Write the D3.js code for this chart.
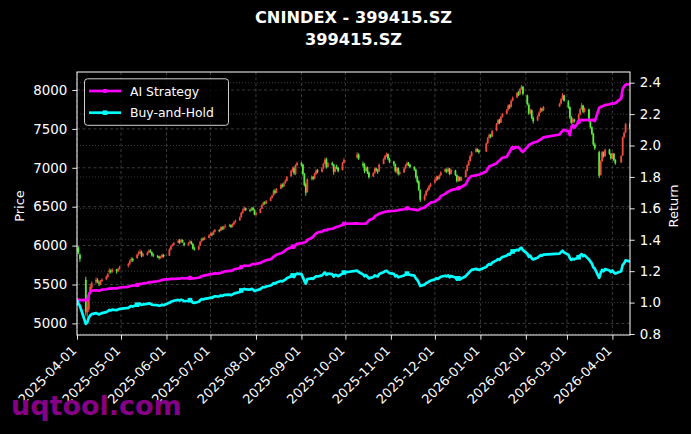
<!DOCTYPE html>
<html>
<head>
<meta charset="utf-8">
<script src="https://cdn.jsdelivr.net/npm/d3@7"></script>
<style>
html, body { margin: 0; padding: 0; background: #000; }
svg { display: block; font-family: "DejaVu Sans", sans-serif; }
</style>
</head>
<body>
<svg id="chart" width="691" height="434"></svg>
<script>
// exchange holidays (weekdays with no trading)
var holidays = ['2025-04-04', '2025-05-01', '2025-05-02', '2025-05-05', '2025-06-02',
  '2025-10-01', '2025-10-02', '2025-10-03', '2025-10-06', '2025-10-07', '2025-10-08',
  '2026-01-01', '2026-01-02', '2026-02-16', '2026-02-17', '2026-02-18', '2026-02-19',
  '2026-02-20', '2026-02-23', '2026-04-06'];

var opens = [
  5920,5965,5880,5560,5140,5180,5420,5460,5530,5560,5530,5505,5545,5570,5600,5660,5680,5665,5690,5670,5700,
  5740,5770,5800,5830,5840,5890,5900,5920,5870,5880,5915,5935,5915,5885,5865,5860,5840,5850,5880,
  5870,5950,5995,6010,6040,6065,6045,6070,6030,6010,6035,6050,6020,5960,5950,6000,6055,6090,6080,6100,
  6130,6155,6140,6180,6200,6190,6235,6210,6240,6250,6265,6240,6270,6300,6325,6365,6420,6455,6480,6460,6450,6485,6460,
  6395,6420,6475,6520,6555,6540,6575,6615,6645,6705,6680,6730,6785,6760,6805,6830,6890,6965,6995,6920,7035,
  7060,7040,6915,6790,6690,6855,6885,6860,6920,6965,6950,6995,7055,7110,7010,7060,7040,6950,7015,7000,6970,7065,
  7130,7170,7050,7040,6960,7005,6940,6890,6935,6990,6965,6955,7050,7110,7150,7175,7120,
  7080,7045,6955,6995,6920,6940,6995,7030,7060,7040,7010,6975,6880,6825,6710,6590,6645,6700,6720,6760,
  6810,6840,6880,6860,6905,6950,6980,6950,6990,6920,6965,6905,6830,6880,6840,6880,6960,7030,7085,7150,7205,7240,7225,
  7210,7315,7385,7425,7400,7480,7565,7615,7580,7655,7695,7745,7800,7785,7865,7905,7965,7945,8015,8040,
  7930,7810,7700,7740,7640,7610,7665,7715,7760,7740,7790,7825,7885,7930,
  7850,7780,7650,7580,7620,7600,7685,7755,7800,7720,7750,7600,7520,7440,7300,7200,6910,7085,7200,7150,7235,7180,
  7120,7180,7100,7070,7160,7395,7455,7560
];
var highs = [
  6000,5990,5900,5600,5300,5400,5500,5540,5590,5580,5550,5560,5580,5615,5650,5710,5695,5710,5700,5715,5740,
  5780,5820,5850,5845,5900,5930,5950,5935,5905,5925,5950,5955,5925,5900,5880,5870,5870,5895,5890,
  5965,6000,6025,6045,6080,6085,6090,6080,6045,6045,6070,6060,6030,5985,6000,6060,6100,6105,6115,6145,
  6165,6170,6195,6215,6210,6245,6250,6255,6275,6280,6275,6285,6315,6335,6375,6430,6470,6500,6490,6475,6495,6500,6465,
  6435,6480,6530,6565,6570,6585,6625,6655,6720,6730,6740,6800,6800,6815,6850,6895,6975,7010,7020,7045,7080,
  7075,7050,6935,6810,6865,6900,6895,6935,6980,6985,7005,7065,7130,7130,7075,7080,7050,7020,7040,7010,7075,7125,
  7200,7185,7080,7060,7020,7015,6955,6945,7005,7000,6985,7055,7125,7165,7195,7185,7130,
  7090,7055,7010,7005,6960,7005,7045,7080,7075,7050,7020,6990,6900,6840,6725,6660,6715,6740,6780,6805,
  6860,6900,6895,6915,6955,6995,6990,7005,7000,6985,6975,6915,6895,6890,6885,6975,7045,7095,7165,7215,7260,7250,7235,
  7325,7395,7440,7435,7485,7575,7625,7630,7665,7705,7755,7815,7815,7875,7915,7975,7985,8025,8065,8050,
  7940,7830,7760,7750,7660,7675,7725,7775,7770,7795,7835,7895,7960,7940,
  7870,7790,7665,7640,7630,7695,7765,7830,7810,7775,7760,7615,7530,7450,7320,7220,7095,7215,7210,7245,7245,7190,
  7195,7190,7110,7165,7400,7465,7575,7580
];
var lows = [
  5900,5890,5790,5100,5080,5150,5400,5440,5510,5520,5480,5490,5530,5555,5585,5640,5640,5650,5640,5660,5690,
  5720,5750,5790,5790,5830,5870,5890,5850,5855,5870,5900,5905,5860,5850,5840,5820,5830,5845,5845,
  5865,5940,5985,6000,6030,6020,6035,6035,5990,6000,6025,6010,5950,5935,5940,5995,6045,6065,6070,6095,
  6120,6120,6135,6170,6170,6185,6200,6205,6230,6240,6225,6235,6265,6295,6320,6360,6410,6445,6445,6430,6445,6450,6390,
  6385,6415,6470,6515,6525,6535,6570,6605,6640,6660,6675,6725,6745,6750,6795,6825,6885,6950,6910,6905,7020,
  7020,6900,6760,6640,6680,6840,6840,6855,6910,6930,6940,6985,7045,6990,7000,7020,6910,6940,6980,6940,6965,7055,
  7120,7100,7000,6930,6950,6920,6860,6880,6925,6950,6920,6950,7045,7100,7140,7100,7060,
  7020,6940,6930,6900,6905,6935,6985,7020,7020,6995,6960,6860,6800,6700,6560,6575,6635,6690,6710,6750,
  6800,6830,6840,6850,6895,6940,6930,6945,6905,6915,6895,6810,6820,6825,6830,6875,6955,7025,7080,7145,7195,7200,7180,
  7205,7305,7375,7380,7395,7470,7555,7560,7575,7645,7685,7735,7755,7775,7855,7895,7920,7935,8000,7930,
  7800,7680,7690,7625,7570,7600,7655,7705,7720,7730,7780,7815,7875,7850,
  7760,7630,7560,7570,7580,7590,7675,7745,7700,7710,7590,7505,7420,7280,7230,6870,6900,7075,7130,7140,7165,7105,
  7110,7085,7040,7060,7155,7380,7445,7500
];
var closes = [
  5960,5920,5830,5150,5210,5380,5470,5520,5560,5540,5510,5540,5560,5600,5630,5680,5660,5690,5670,5700,5720,
  5760,5800,5830,5810,5880,5900,5920,5870,5890,5910,5930,5920,5880,5870,5860,5840,5850,5880,5860,
  5950,5990,6010,6030,6060,6040,6070,6050,6010,6030,6050,6020,5960,5950,5990,6050,6090,6080,6100,6130,
  6150,6140,6180,6200,6190,6230,6210,6240,6250,6260,6240,6270,6300,6320,6360,6420,6450,6480,6460,6450,6480,6460,6400,
  6420,6470,6520,6550,6540,6570,6610,6640,6700,6680,6720,6780,6760,6800,6830,6880,6960,6990,6930,7030,7060,
  7040,6920,6780,6680,6850,6880,6860,6920,6960,6950,6990,7050,7100,7010,7060,7040,6950,7010,7000,6960,7060,7100,
  7170,7120,7030,6960,7000,6940,6880,6930,6990,6970,6950,7040,7110,7150,7170,7120,7080,
  7050,6960,6990,6920,6940,6990,7030,7060,7040,7010,6980,6880,6820,6720,6590,6640,6700,6720,6760,6790,
  6840,6880,6860,6900,6940,6980,6950,6990,6920,6970,6910,6830,6880,6840,6870,6960,7030,7080,7150,7200,7240,7220,7200,
  7310,7380,7420,7400,7470,7560,7610,7580,7650,7690,7740,7800,7780,7860,7900,7960,7940,8010,8040,7950,
  7820,7700,7740,7640,7600,7660,7710,7760,7740,7780,7820,7880,7930,7860,
  7780,7650,7580,7620,7600,7680,7750,7800,7720,7760,7600,7520,7440,7300,7250,6900,7080,7200,7150,7230,7180,7120,
  7180,7100,7060,7150,7390,7450,7560,7520
];
// AI strategy cumulative return
var aiStrategy = [
  1.015,1.015,1.015,1.015,1.015,1.048,1.068,1.076,1.078,1.077,1.075,1.078,1.082,1.085,1.087,1.090,1.089,1.091,1.090,1.093,1.096,
  1.100,1.104,1.108,1.107,1.112,1.116,1.120,1.118,1.122,1.126,1.129,1.131,1.130,1.132,1.136,1.138,1.141,1.145,1.146,
  1.149,1.151,1.152,1.150,1.153,1.152,1.155,1.156,1.154,1.155,1.157,1.156,1.153,1.155,1.158,1.163,1.168,1.170,1.173,1.178,
  1.182,1.181,1.184,1.186,1.185,1.190,1.192,1.196,1.199,1.202,1.201,1.206,1.210,1.214,1.219,1.226,1.230,1.236,1.234,1.236,1.242,1.246,1.244,
  1.246,1.252,1.258,1.262,1.266,1.270,1.276,1.282,1.292,1.298,1.305,1.314,1.318,1.324,1.332,1.340,1.352,1.356,1.350,1.366,1.374,
  1.378,1.380,1.383,1.386,1.398,1.412,1.420,1.432,1.440,1.446,1.452,1.458,1.462,1.460,1.466,1.470,1.472,1.478,1.482,1.484,1.494,1.502,
  1.504,1.503,1.502,1.502,1.504,1.512,1.524,1.536,1.548,1.556,1.560,1.566,1.574,1.578,1.580,1.581,1.582,
  1.583,1.584,1.586,1.588,1.590,1.594,1.598,1.600,1.599,1.596,1.592,1.590,1.588,1.590,1.596,1.606,1.614,1.620,1.628,1.636,
  1.642,1.650,1.656,1.662,1.678,1.692,1.700,1.706,1.710,1.716,1.722,1.726,1.728,1.730,1.736,1.752,1.770,1.790,1.798,1.806,1.810,1.812,1.814,
  1.835,1.852,1.866,1.870,1.874,1.886,1.898,1.904,1.914,1.922,1.928,1.946,1.960,1.978,1.984,1.990,1.988,1.978,1.966,1.960,
  1.990,2.002,2.008,2.012,2.018,2.026,2.034,2.038,2.044,2.052,2.070,2.084,2.092,2.100,
  2.090,2.066,2.118,2.130,2.112,2.150,2.162,2.164,2.160,2.162,2.164,2.162,2.163,2.160,2.155,2.240,2.245,2.250,2.252,2.258,2.262,2.266,
  2.268,2.266,2.270,2.300,2.360,2.375,2.388,2.390
];

var priceTicks = [5000, 5500, 6000, 6500, 7000, 7500, 8000];
var returnTicks = [0.8, 1.0, 1.2, 1.4, 1.6, 1.8, 2.0, 2.2, 2.4];
var monthTicks = ['2025-04-01', '2025-05-01', '2025-06-01', '2025-07-01', '2025-08-01', '2025-09-01',
  '2025-10-01', '2025-11-01', '2025-12-01', '2026-01-01', '2026-02-01', '2026-03-01', '2026-04-01'];

var plot = { left: 77, right: 630, top: 72, bottom: 335 };
var upColor = '#ee4b3d', downColor = '#58ea3c';
var gridColor = '#4a4a4a';

var fmtDay = d3.utcFormat('%Y-%m-%d');
var parseDay = d3.utcParse('%Y-%m-%d');
var holidaySet = new Set(holidays);
var dates = d3.utcDays(parseDay('2025-04-01'), parseDay('2026-04-14')).filter(function(d) {
  var w = d.getUTCDay();
  return w > 0 && w < 6 && !holidaySet.has(fmtDay(d));
});
var monthDates = monthTicks.map(parseDay);

// buy-and-hold is the price relative to the first close
var buyHold = closes.map(function(c) { return c / closes[0]; });

var x = d3.scaleUtc()
  .domain([dates[0], dates[dates.length - 1]])
  .range([plot.left, plot.right]);
var yPrice = d3.scaleLinear().domain([4851, 8231]).range([plot.bottom, plot.top]);
var yRet = d3.scaleLinear().domain([0.7936, 2.468]).range([plot.bottom, plot.top]);

var svg = d3.select('#chart');
svg.append('rect').attr('width', 691).attr('height', 434).attr('fill', '#000');

svg.append('defs').append('clipPath').attr('id', 'clip')
  .append('rect')
  .attr('x', plot.left).attr('y', plot.top)
  .attr('width', plot.right - plot.left).attr('height', plot.bottom - plot.top);

// grid
var grid = svg.append('g');
grid.selectAll('.gx').data(monthDates).enter().append('line')
  .attr('x1', function(d) { return x(d); }).attr('x2', function(d) { return x(d); })
  .attr('y1', plot.top).attr('y2', plot.bottom)
  .attr('stroke', gridColor).attr('stroke-width', 0.8).attr('stroke-dasharray', '3,2.5');
grid.selectAll('.gp').data(priceTicks).enter().append('line')
  .attr('x1', plot.left).attr('x2', plot.right)
  .attr('y1', function(d) { return yPrice(d); }).attr('y2', function(d) { return yPrice(d); })
  .attr('stroke', gridColor).attr('stroke-width', 0.8).attr('stroke-dasharray', '3,2.5');
grid.selectAll('.gr').data(returnTicks).enter().append('line')
  .attr('x1', plot.left).attr('x2', plot.right)
  .attr('y1', function(d) { return yRet(d); }).attr('y2', function(d) { return yRet(d); })
  .attr('stroke', gridColor).attr('stroke-width', 0.8).attr('stroke-dasharray', '1,2');

// candles
var candles = svg.append('g').attr('clip-path', 'url(#clip)')
  .selectAll('g').data(dates).enter().append('g');
function candleColor(d, i) { return closes[i] >= opens[i] ? upColor : downColor; }
candles.append('line')
  .attr('x1', function(d) { return x(d); }).attr('x2', function(d) { return x(d); })
  .attr('y1', function(d, i) { return yPrice(highs[i]); })
  .attr('y2', function(d, i) { return yPrice(lows[i]); })
  .attr('stroke', candleColor).attr('stroke-width', 1);
candles.append('rect')
  .attr('x', function(d) { return x(d) - 0.9; })
  .attr('width', 1.8)
  .attr('y', function(d, i) { return yPrice(Math.max(opens[i], closes[i])); })
  .attr('height', function(d, i) {
    return Math.max(1, Math.abs(yPrice(opens[i]) - yPrice(closes[i])));
  })
  .attr('fill', candleColor);

// return lines
var lines = svg.append('g').attr('clip-path', 'url(#clip)');
var series = [
  { name: 'AI Strategy', values: aiStrategy, color: '#ff00ff', marker: 'circle' },
  { name: 'Buy-and-Hold', values: buyHold, color: '#00ffff', marker: 'square' }
];
var line = d3.line()
  .x(function(d, i) { return x(dates[i]); })
  .y(function(d) { return yRet(d); });
series.forEach(function(s) {
  lines.append('path').datum(s.values)
    .attr('d', line)
    .attr('fill', 'none').attr('stroke', s.color).attr('stroke-width', 2.7)
    .attr('stroke-linejoin', 'round');
  var marked = s.values.map(function(v, i) { return i; }).filter(function(i) { return i % 25 === 0; });
  if (s.marker === 'circle') {
    lines.selectAll(null).data(marked).enter().append('circle')
      .attr('cx', function(i) { return x(dates[i]); })
      .attr('cy', function(i) { return yRet(s.values[i]); })
      .attr('r', 2.3).attr('fill', s.color);
  } else {
    lines.selectAll(null).data(marked).enter().append('rect')
      .attr('x', function(i) { return x(dates[i]) - 2.3; })
      .attr('y', function(i) { return yRet(s.values[i]) - 2.3; })
      .attr('width', 4.6).attr('height', 4.6).attr('fill', s.color);
  }
});

// axes
function styleAxis(g) {
  g.select('.domain').remove();
  g.selectAll('.tick line').attr('stroke', '#fff').attr('stroke-width', 0.9);
  g.selectAll('.tick text').attr('fill', '#fff').attr('font-size', 13.4)
    .attr('font-family', '"DejaVu Sans", sans-serif');
}
svg.append('g')
  .attr('transform', 'translate(' + plot.left + ',0)')
  .call(d3.axisLeft(yPrice).tickValues(priceTicks).tickFormat(d3.format('d')).tickSize(4.7).tickPadding(5))
  .call(styleAxis);
svg.append('g')
  .attr('transform', 'translate(' + plot.right + ',0)')
  .call(d3.axisRight(yRet).tickValues(returnTicks).tickFormat(d3.format('.1f')).tickSize(4.7).tickPadding(5))
  .call(styleAxis);
var xAxis = svg.append('g')
  .attr('transform', 'translate(0,' + plot.bottom + ')')
  .call(d3.axisBottom(x).tickValues(monthDates).tickFormat(fmtDay).tickSize(4.7))
  .call(styleAxis);
xAxis.selectAll('.tick text')
  .attr('x', 0).attr('y', 0).attr('dy', null)
  .attr('font-size', 13)
  .attr('text-anchor', 'end')
  .attr('dominant-baseline', 'central')
  .attr('transform', 'translate(-3.4,13.2) rotate(-45)');

// frame
svg.append('rect')
  .attr('x', plot.left).attr('y', plot.top)
  .attr('width', plot.right - plot.left).attr('height', plot.bottom - plot.top)
  .attr('fill', 'none').attr('stroke', '#fff').attr('stroke-width', 1);

// axis labels
svg.append('text')
  .attr('transform', 'translate(19,206) rotate(-90)')
  .attr('text-anchor', 'middle').attr('dominant-baseline', 'central')
  .attr('fill', '#fff').attr('font-size', 13).text('Price');
svg.append('text')
  .attr('transform', 'translate(673,206) rotate(-90)')
  .attr('text-anchor', 'middle').attr('dominant-baseline', 'central')
  .attr('fill', '#fff').attr('font-size', 13).text('Return');

// title
var cx = (plot.left + plot.right) / 2;
svg.append('text').attr('x', cx).attr('y', 23.3)
  .attr('text-anchor', 'middle').attr('fill', '#fff')
  .attr('font-size', 16.2).attr('font-weight', 'bold')
  .text('CNINDEX - 399415.SZ');
svg.append('text').attr('x', cx).attr('y', 45)
  .attr('text-anchor', 'middle').attr('fill', '#fff')
  .attr('font-size', 16.2).attr('font-weight', 'bold')
  .text('399415.SZ');

// legend
var legend = svg.append('g');
legend.append('rect')
  .attr('x', 84.5).attr('y', 78.8).attr('width', 144).attr('height', 46.5)
  .attr('rx', 3).attr('fill', 'rgba(0,0,0,0.8)')
  .attr('stroke', '#cfcfcf').attr('stroke-width', 1);
series.forEach(function(s, i) {
  var ly = 91 + i * 21.7;
  legend.append('line')
    .attr('x1', 89).attr('x2', 121).attr('y1', ly).attr('y2', ly)
    .attr('stroke', s.color).attr('stroke-width', 2.7);
  if (s.marker === 'circle') {
    legend.append('circle').attr('cx', 105).attr('cy', ly).attr('r', 2.3).attr('fill', s.color);
  } else {
    legend.append('rect').attr('x', 102.7).attr('y', ly - 2.3)
      .attr('width', 4.6).attr('height', 4.6).attr('fill', s.color);
  }
  legend.append('text')
    .attr('x', 130).attr('y', ly)
    .attr('dominant-baseline', 'central')
    .attr('fill', '#fff').attr('font-size', 12.4)
    .text(s.name);
});

// watermark
svg.append('text')
  .attr('x', 11).attr('y', 415)
  .attr('fill', '#850085').attr('font-size', 27).attr('font-weight', 'bold')
  .text('uqtool.com');
</script>
</body>
</html>
